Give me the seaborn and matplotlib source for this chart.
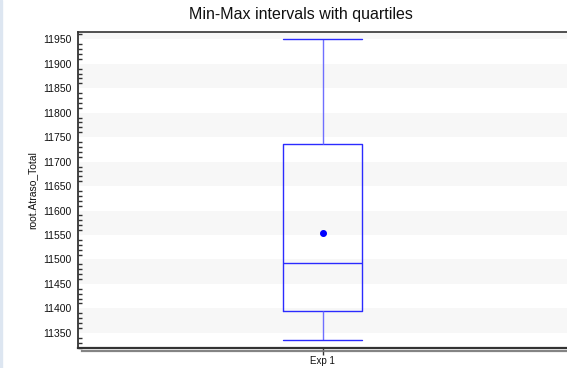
import matplotlib
matplotlib.use("Agg")
import matplotlib.pyplot as plt
import matplotlib.patheffects as pe
from matplotlib.patches import Rectangle
from matplotlib.ticker import MultipleLocator
import numpy as np
import seaborn as sns

# five-number summary (min, Q1, median, Q3, max) and the mean
experiment = ["Exp 1"] * 5
summary_values = [11336, 11395, 11493, 11736, 11950]
mean_label = ["Exp 1"]
mean_value = [11554]
y_label = "root.Atraso_Total"
title = "Min-Max intervals with quartiles"
y_ticks = list(range(11350, 11951, 50))

sns.set_style("white")
plt.rcParams["font.family"] = ["Liberation Sans", "DejaVu Sans"]

fig = plt.figure(figsize=(5.67, 3.68), dpi=100)
ax = fig.add_axes([78 / 567, 1 - 348 / 368, 1 - 78 / 567, (348 - 32) / 368])

# alternating light bands behind the data
ax.axhspan(11950, 12000, color="#f7f7f7", zorder=0, lw=0)
for lo in y_ticks[::2][:-1]:
    ax.axhspan(lo, lo + 50, color="#f7f7f7", zorder=0, lw=0)

box_blue = "#2b2bff"
sns.boxplot(x=experiment, y=summary_values, whis=(0, 100), width=0.16,
            fill=False, linewidth=1.0, showfliers=False, ax=ax,
            boxprops=dict(color=box_blue),
            medianprops=dict(color=box_blue),
            whiskerprops=dict(color="#6f6fff"),
            capprops=dict(color=box_blue),
            capwidths=0.16)
sns.pointplot(x=mean_label, y=mean_value, color="#0000ff", markers="o",
              markersize=3, errorbar=None, linestyles="none", ax=ax)

ax.set_xlim(-0.5, 0.5)
ax.set_ylim(11319, 11965)
ax.yaxis.set_major_locator(MultipleLocator(50))
ax.yaxis.set_minor_locator(MultipleLocator(10))
ax.tick_params(axis="y", which="major", direction="inout", length=8,
               width=1, color="#333333", labelsize=7.5, labelcolor="#111111", pad=0.5)
ax.tick_params(axis="y", which="minor", direction="in", length=3,
               width=1, color="#333333", left=True)
ax.tick_params(axis="x", which="major", direction="out", length=5,
               width=1, color="#333333", labelsize=7, labelcolor="#111111", pad=1,
               bottom=True)
ax.set_ylabel(y_label, fontsize=7.5, color="#111111", labelpad=4)
ax.set_xlabel("")

for side in ["left", "bottom", "top"]:
    ax.spines[side].set_visible(True)
    ax.spines[side].set_color("#333333")
ax.spines["left"].set_linewidth(1.3)
ax.spines["top"].set_linewidth(1.2)
ax.spines["bottom"].set_linewidth(1.6)
ax.spines["bottom"].set_path_effects([
    pe.SimpleLineShadow(offset=(3, -2), shadow_color="#777777", alpha=0.9),
    pe.Normal()])
ax.spines["right"].set_visible(False)

fig.text(301 / 567, 1 - 14 / 368, title, ha="center", va="center",
         fontsize=11.5, color="#111111")
fig.patches.append(Rectangle((0, 0), 1.5 / 567, 1, transform=fig.transFigure,
                             color="#dde6f1", zorder=-1))

fig.savefig("out.png", dpi=100)
